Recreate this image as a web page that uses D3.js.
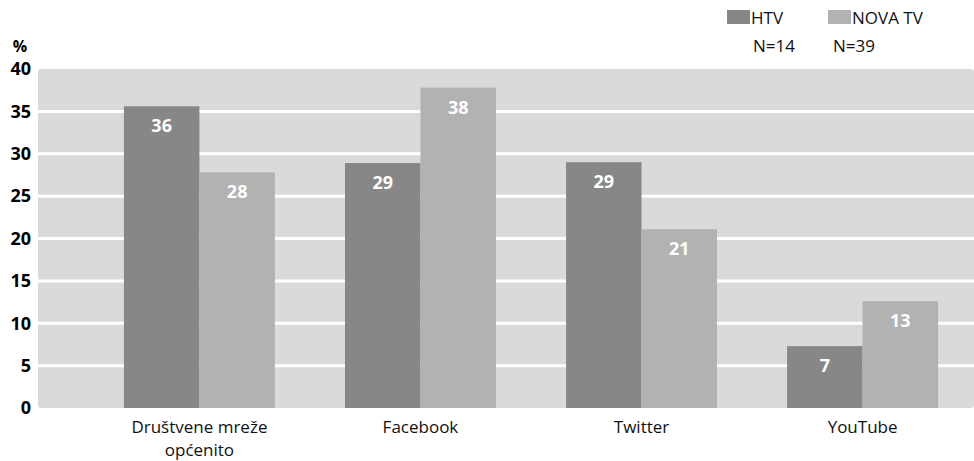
<!DOCTYPE html>
<html>
<head>
<meta charset="utf-8">
<script src="https://cdn.jsdelivr.net/npm/d3@7"></script>
<style>
body { margin: 0; background: #fff; }
svg { display: block; font-family: "Open Sans", "DejaVu Sans", sans-serif; }
</style>
</head>
<body>
<script>
var categories = ["Društvene mreže općenito", "Facebook", "Twitter", "YouTube"];
var categoryLines = [["Društvene mreže", "općenito"], ["Facebook"], ["Twitter"], ["YouTube"]];
var seriesNames = ["HTV", "NOVA TV"];
var seriesN = ["N=14", "N=39"];
var htvValues = [35.6, 28.9, 29.0, 7.3];
var novaValues = [27.8, 37.8, 21.1, 12.6];
var yTicks = [0, 5, 10, 15, 20, 25, 30, 35, 40];

var W = 974, H = 461;
var colors = ["#878787", "#b2b2b3"];
var plotLeft = 38, plotRight = 974, plotTop = 69, plotBottom = 408;

var svg = d3.select("body").append("svg").attr("width", W).attr("height", H);

var y = d3.scaleLinear().domain([0, 40]).range([plotBottom, plotTop]);
var x = d3.scaleBand().domain(categories).range([89, 973]).paddingInner(0.317).paddingOuter(0.158);
var xs = d3.scaleBand().domain(seriesNames).range([0, x.bandwidth()]);

// background
svg.append("rect")
    .attr("x", plotLeft).attr("y", plotTop)
    .attr("width", plotRight - plotLeft).attr("height", plotBottom - plotTop)
    .attr("rx", 3)
    .attr("fill", "#d9dadb");

// gridlines
svg.selectAll("line.grid")
    .data(yTicks.filter(function (d) { return d > 0 && d < 40; }))
    .enter()
    .append("line")
    .attr("class", "grid")
    .attr("x1", plotLeft - 1).attr("x2", plotRight)
    .attr("y1", function (d) { return y(d); })
    .attr("y2", function (d) { return y(d); })
    .attr("stroke", "#fff")
    .attr("stroke-width", 3)
    .attr("stroke-linecap", "round");

// y axis labels
var yAxis = d3.axisLeft(y).tickValues(yTicks).tickSize(0).tickPadding(0);
var gy = svg.append("g").attr("transform", "translate(31,0)").call(yAxis);
gy.select(".domain").remove();
gy.selectAll("text")
    .attr("font-size", 18)
    .attr("font-weight", "bold")
    .attr("fill", "#000")
    .attr("font-family", "\"Open Sans\", sans-serif");

svg.append("text")
    .attr("x", 20).attr("y", 52)
    .attr("text-anchor", "middle")
    .attr("font-size", 16).attr("font-weight", "bold")
    .text("%");

// bars
var rows = categories.map(function (c, i) {
    return [{ cat: c, s: seriesNames[0], v: htvValues[i], k: 0 },
            { cat: c, s: seriesNames[1], v: novaValues[i], k: 1 }];
});
var groups = svg.selectAll("g.cat")
    .data(rows)
    .enter()
    .append("g")
    .attr("class", "cat")
    .attr("transform", function (d) { return "translate(" + x(d[0].cat) + ",0)"; });

groups.selectAll("rect")
    .data(function (d) { return d; })
    .enter()
    .append("rect")
    .attr("x", function (d) { return xs(d.s); })
    .attr("y", function (d) { return y(d.v); })
    .attr("width", xs.bandwidth())
    .attr("height", function (d) { return y(0) - y(d.v); })
    .attr("fill", function (d) { return colors[d.k]; });

groups.selectAll("text.val")
    .data(function (d) { return d; })
    .enter()
    .append("text")
    .attr("class", "val")
    .attr("x", function (d) { return xs(d.s) + xs.bandwidth() / 2; })
    .attr("y", function (d) { return y(d.v) + 26; })
    .attr("text-anchor", "middle")
    .attr("font-size", 18)
    .attr("font-weight", "bold")
    .attr("fill", "#fff")
    .text(function (d) { return Math.round(d.v); });

// category labels
var cl = svg.selectAll("text.cat")
    .data(categories)
    .enter()
    .append("text")
    .attr("class", "cat")
    .attr("x", function (d) { return x(d) + x.bandwidth() / 2; })
    .attr("y", 433)
    .attr("text-anchor", "middle")
    .attr("font-size", 17)
    .attr("fill", "#111");
cl.selectAll("tspan")
    .data(function (d, i) { return categoryLines[i]; })
    .enter()
    .append("tspan")
    .attr("x", function () { return d3.select(this.parentNode).attr("x"); })
    .attr("dy", function (d, i) { return i === 0 ? 0 : 23; })
    .text(function (d) { return d; });

// legend
var legX = [727, 828];
var lg = svg.selectAll("g.leg")
    .data(seriesNames)
    .enter()
    .append("g")
    .attr("class", "leg")
    .attr("transform", function (d, i) { return "translate(" + legX[i] + ",0)"; });
lg.append("rect")
    .attr("x", 0).attr("y", 10)
    .attr("width", 23).attr("height", 14)
    .attr("fill", function (d, i) { return colors[i]; });
lg.append("text")
    .attr("x", 24).attr("y", 24)
    .attr("font-size", 17)
    .attr("fill", "#111")
    .text(function (d) { return d; });
lg.append("text")
    .attr("x", function (d, i) { return i === 0 ? 26 : 5; })
    .attr("y", 52)
    .attr("font-size", 17)
    .attr("fill", "#111")
    .text(function (d, i) { return seriesN[i]; });
</script>
</body>
</html>
